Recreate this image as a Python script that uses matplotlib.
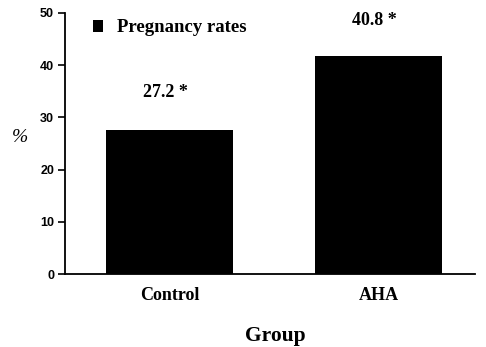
import matplotlib
matplotlib.use("Agg")
import matplotlib.pyplot as plt

categories = ["Control", "AHA"]
values = [27.5, 41.8]
value_labels = ["27.2 *", "40.8 *"]
yticks = [0, 10, 20, 30, 40, 50]

fig = plt.figure(figsize=(4.86, 3.47), dpi=100)
ax = fig.add_axes([0.134, 0.210, 0.843, 0.753])
x = list(range(len(categories)))
ax.bar(x, values, width=0.606, color="black", label="Pregnancy rates")
ax.set_xlim(-0.5, 1.46)
ax.set_ylim(0, 50)
ax.set_yticks(yticks)
ax.set_yticklabels([str(t) for t in yticks], family="Liberation Sans", fontweight="bold", fontsize=9)
ax.set_xticks(x)
ax.set_xticklabels(categories, family="Liberation Serif", fontweight="bold", fontsize=13)
ax.tick_params(axis="x", length=0, pad=9)
ax.tick_params(axis="y", length=5, width=1.2, direction="out", pad=3)
for s in ["top", "right"]:
    ax.spines[s].set_visible(False)
for s in ["left", "bottom"]:
    ax.spines[s].set_linewidth(1.3)

offsets = [7.2, 6.7]
for xi, v, lab, off in zip(x, values, value_labels, offsets):
    ax.text(xi - 0.02, v + off, lab, ha="center", va="center", family="Liberation Serif",
            fontweight="bold", fontsize=13)

ax.legend(loc="center left", bbox_to_anchor=(0.068, 0.9425), frameon=False,
          prop={"family": "Liberation Serif", "weight": "bold", "size": 13.5},
          handlelength=0.55, handleheight=0.65, handletextpad=0.75,
          borderpad=0, borderaxespad=0)

fig.text(20 / 486, 1 - 137 / 347, "%", ha="center", va="center", family="Liberation Serif",
         style="italic", fontsize=14)
fig.text(275 / 486, 1 - 336 / 347, "Group", ha="center", va="center", family="Liberation Serif",
         fontweight="bold", fontsize=15.5)

fig.savefig("out.png", dpi=100)
